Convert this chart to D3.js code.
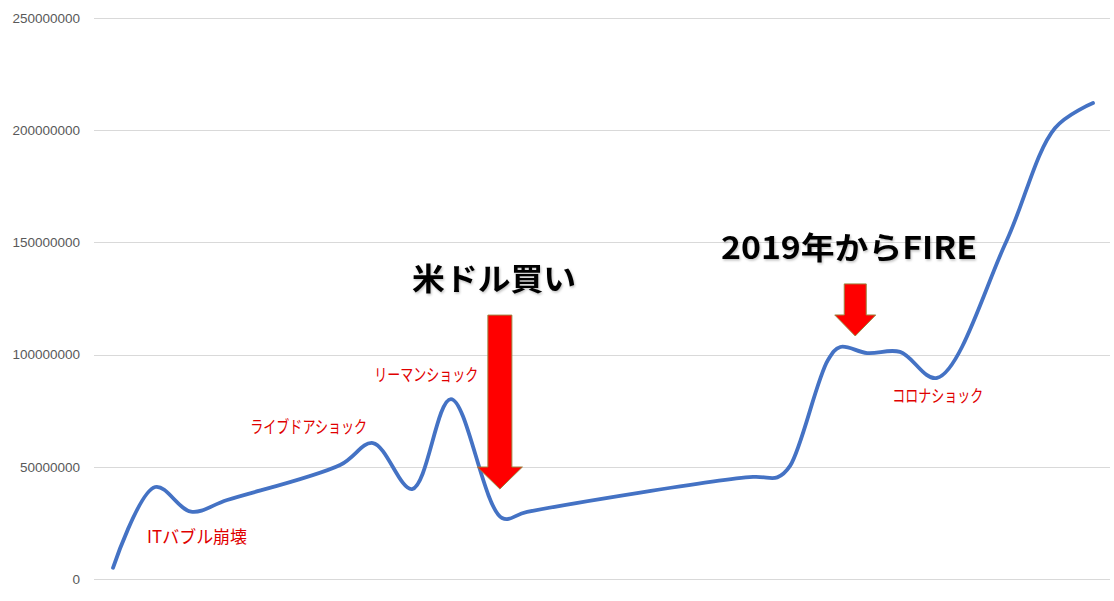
<!DOCTYPE html>
<html><head><meta charset="utf-8">
<script src="https://cdn.jsdelivr.net/npm/d3@7"></script>
<style>
html,body{margin:0;padding:0;background:#fff;}
svg{display:block;}
</style></head>
<body>
<script>
// Position along the time axis (no x labels shown in the chart)
const period = [0, 0.99, 1.83, 2.68, 5.33, 6.10, 7.02, 7.93, 9.13, 9.72, 15.02, 15.59, 15.89, 16.78, 17.07, 17.70, 18.47, 19.34, 20.96, 22.11, 23.0];
// Asset value (yen)
const assets = [5000000, 41000000, 30000000, 35200000, 50800000, 60600000, 40100000, 80200000, 27200000, 29900000, 45500000, 45300000, 50400000, 97600000, 103400000, 100700000, 101200000, 89600000, 150200000, 201000000, 212100000];
const yTicks = [0, 50000000, 100000000, 150000000, 200000000, 250000000];
const tickLabels = ["0", "50000000", "100000000", "150000000", "200000000", "250000000"];

// Red event labels
const eventLabels = ["ITバブル崩壊", "ライブドアショック", "リーマンショック", "コロナショック"];
const eventPeriod = [0.80, 3.22, 6.13, 18.29];
const eventValue = [18700000, 67700000, 91000000, 81700000];
const eventWidth = [100, 117, 104, 91];

// Big black headlines
const headLabels = ["米ドル買い", "2019年からFIRE"];
const headPeriod = [7.02, 14.27];
const headValue = [133700000, 147500000];
const headWidth = [164, 256];

// Arrows (tip and tail values)
const arrowPeriod = [9.08, 17.42];
const arrowTop = [117600000, 131500000];
const arrowTip = [40100000, 108300000];

const W = 1114, H = 601;
const svg = d3.select("body").append("svg").attr("width", W).attr("height", H);

const defs = svg.append("defs");
const f = defs.append("filter").attr("id","shadow").attr("x","-10%").attr("y","-20%").attr("width","130%").attr("height","150%");
f.append("feDropShadow").attr("dx",1).attr("dy",1.5).attr("stdDeviation",1.2).attr("flood-color","#000").attr("flood-opacity",0.25);

const x = d3.scaleLinear().domain([0, 23]).range([113, 1093]);
const y = d3.scaleLinear().domain([0, 250000000]).range([579, 18]);

// grid
svg.append("g").selectAll("line").data(yTicks).join("line")
  .attr("x1", 94).attr("x2", 1110)
  .attr("y1", d => Math.round(y(d)) + 0.5).attr("y2", d => Math.round(y(d)) + 0.5)
  .attr("stroke", "#d9d9d9").attr("stroke-width", 1);

// y labels
svg.append("g").selectAll("text").data(yTicks).join("text")
  .attr("x", 80).attr("y", d => y(d))
  .attr("dy", "0.35em")
  .attr("text-anchor", "end")
  .attr("font-family", "'Liberation Sans', Arial, sans-serif")
  .attr("font-size", 13.5)
  .attr("fill", "#595959")
  .text((d, i) => tickLabels[i]);

// line
const pts = period.map((p, i) => [p, assets[i]]);
const line = d3.line().x(d => x(d[0])).y(d => y(d[1])).curve(d3.curveCatmullRom.alpha(0.5));
svg.append("path").attr("d", line(pts))
  .attr("fill", "none").attr("stroke", "#4472C4").attr("stroke-width", 3.8)
  .attr("stroke-linecap", "round").attr("stroke-linejoin", "round");

// arrows
const shaftW = [24, 22], headW = [45, 41], headH = [22, 21];
arrowPeriod.forEach((p, i) => {
  const cx = x(p), top = y(arrowTop[i]), tip = y(arrowTip[i]);
  const sw = shaftW[i] / 2, hw = headW[i] / 2, hb = tip - headH[i];
  const path = `M${cx - sw},${top} L${cx + sw},${top} L${cx + sw},${hb} L${cx + hw},${hb} L${cx},${tip} L${cx - hw},${hb} L${cx - sw},${hb} Z`;
  svg.append("path").attr("d", path).attr("fill", "#ff0000").attr("stroke", "#9c8440").attr("stroke-width", 1);
});

// event labels
svg.append("g").selectAll("text").data(eventLabels).join("text")
  .attr("x", (d, i) => x(eventPeriod[i])).attr("y", (d, i) => y(eventValue[i]))
  .attr("dy", "0.36em")
  .attr("font-family", "'Noto Sans CJK JP', sans-serif")
  .attr("font-size", 17.5)
  .attr("fill", "#e00000")
  .attr("textLength", (d, i) => eventWidth[i])
  .attr("lengthAdjust", "spacingAndGlyphs")
  .text(d => d);

// headlines
svg.append("g").selectAll("text").data(headLabels).join("text")
  .attr("x", (d, i) => x(headPeriod[i])).attr("y", (d, i) => y(headValue[i]))
  .attr("dy", "0.36em")
  .attr("font-family", "'Noto Sans CJK JP', sans-serif")
  .attr("font-weight", "bold")
  .attr("font-size", 31)
  .attr("fill", "#000")
  .attr("filter", "url(#shadow)")
  .attr("textLength", (d, i) => headWidth[i])
  .attr("lengthAdjust", "spacingAndGlyphs")
  .text(d => d);
</script>
</body></html>
